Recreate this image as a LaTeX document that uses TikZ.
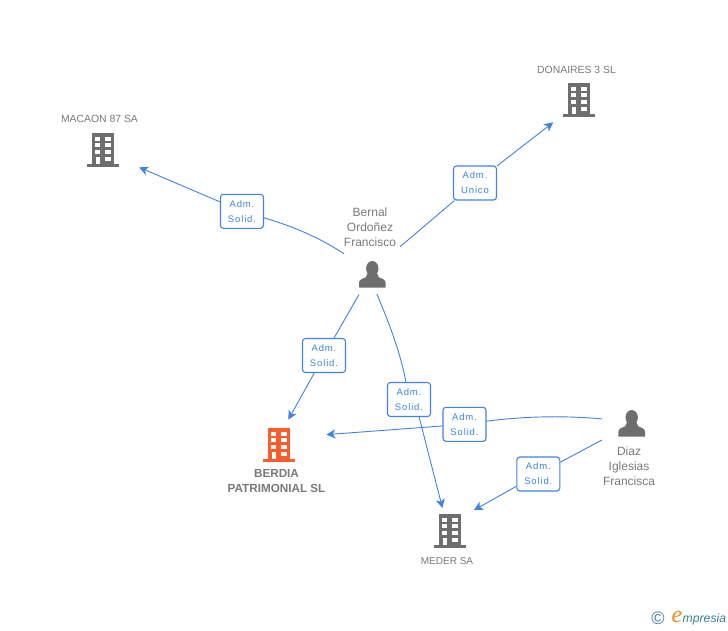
\documentclass[tikz,border=0pt]{standalone}
\usepackage{fontspec}
\usetikzlibrary{arrows.meta}
\setmainfont{Liberation Sans}
\newfontfamily\badgefont[LetterSpace=9]{Liberation Sans}
\newfontfamily\logofont{Liberation Serif}
\definecolor{iconGray}{HTML}{6E6E6E}
\definecolor{textGray}{HTML}{7A7A7A}
\definecolor{linkBlue}{HTML}{3F83E4}
\definecolor{iconOrange}{HTML}{FF5C2E}
\definecolor{logoTeal}{HTML}{3C7F98}
\definecolor{logoOrange}{HTML}{F08A1D}
\tikzset{
	anchorbox/.style={circle,minimum size=40pt,inner sep=0pt},
	name label/.style={text=textGray,font=\fontsize{10.4}{15}\selectfont,align=center,inner sep=0pt},
	badge/.style={draw=linkBlue,fill=white,rounded corners=3pt,line width=1.1pt,
		minimum width=43pt,minimum height=34pt,inner sep=0pt,align=center,
		text=linkBlue,font=\fontsize{9.5}{15}\selectfont\badgefont},
	link/.style={draw=linkBlue,line width=0.9pt},
	tip/.style={-{Stealth[length=9pt,width=9pt,inset=2.5pt]}},
	pics/building/.style={code={
		\fill[#1] (-10.7,-17) rectangle (11,15);
		\fill[#1] (-15.7,14) rectangle (16,17);
		\foreach \wy in {-13.3,-6.7,0} {
			\fill[white] (-7.7,\wy) rectangle (-2.7,\wy+4);
			\fill[white] (2.3,\wy) rectangle (7.7,\wy+4);
		}
		\fill[white] (2.3,6.7) rectangle (7.7,10.7);
		\fill[white] (-7.2,6.7) rectangle (-2.6,14);
	}},
	pics/person/.style={code={
		\fill[iconGray] (0,-5.8) ellipse (6.2 and 7.5);
		\fill[iconGray] (-13.3,13.3) -- (-13.3,8.5) .. controls (-13.3,5.5) and (-10,4.5) .. (-6.5,3)
			-- (-4.8,-1) -- (4.8,-1) -- (6.5,3) .. controls (10,4.5) and (13.3,5.5) .. (13.3,8.5) -- (13.3,13.3) -- cycle;
	}}
}
\begin{document}
\begin{tikzpicture}[x=1pt,y=-1pt]
	\useasboundingbox (0,0) rectangle (728,630);
	\fill[white] (0,0) rectangle (728,630);

	\node[anchorbox] (macaon) at (103,150) {};
	\node[anchorbox] (donaires) at (579,100) {};
	\node[anchorbox] (berdia) at (279,445) {};
	\node[anchorbox] (meder) at (450,531) {};
	\node[anchorbox] (bernal) at (372.3,274.3) {};
	\node[anchorbox] (diaz) at (631.7,423.3) {};

	\pic at (macaon) {building=iconGray};
	\pic at (donaires) {building=iconGray};
	\pic at (berdia) {building=iconOrange};
	\pic at (meder) {building=iconGray};
	\pic at (bernal) {person};
	\pic at (diaz) {person};

	\node[name label] (macaonname) at (99.5,119) {MACAON 87 SA};
	\node[name label] (donairesname) at (576.5,70) {DONAIRES 3 SL};
	\node[name label,font=\fontsize{11.7}{15}\selectfont\bfseries] (berdianame) at (276.5,481) {BERDIA\\PATRIMONIAL SL};
	\node[name label,font=\fontsize{10}{15}\selectfont] (medername) at (447,561) {MEDER SA};
	\node[name label,font=\fontsize{12}{15}\selectfont] (bernalname) at (370,227) {Bernal\\Ordoñez\\Francisco};
	\node[name label,font=\fontsize{12}{15}\selectfont] (diazname) at (629,466) {Diaz\\Iglesias\\Francisca};

	\begin{scope}[every node/.style={badge}]
		\node (adm1) at (242,211.3) {Adm.\\Solid.};
		\node (adm2) at (475,183) {Adm.\\Unico};
		\node (adm3) at (324,355.5) {Adm.\\Solid.};
		\node (adm4) at (409,399.5) {Adm.\\Solid.};
		\node (adm5) at (464.5,424.3) {Adm.\\Solid.};
		\node (adm6) at (538.3,474) {Adm.\\Solid.};
	\end{scope}

	\draw[link,shorten <=15pt] (bernal.142) .. controls (320,238) and (295,227) .. (adm1);
	\draw[link,tip,shorten >=20pt] (adm1) -- (macaon.332);
	\draw[link,shorten <=19pt] (bernal.49) -- (adm2);
	\draw[link,tip,shorten >=14pt] (adm2) -- (donaires.223);
	\draw[link,shorten <=4pt] (bernal.236) -- (adm3);
	\draw[link,tip,shorten >=7pt] (adm3) -- (berdia.73);
	\draw[link] (bernal.283) .. controls (390,325) and (401,355) .. (adm4.100);
	\draw[link,tip,shorten >=4pt] (adm4.300) -- (meder.109);
	\draw[link,shorten <=10pt] (diaz.170) .. controls (570,416) and (530,415.5) .. (adm5.8);
	\draw[link,tip,shorten >=29pt] (adm5) -- (berdia.24);
	\draw[link,shorten <=14pt] (diaz.210) -- (adm6);
	\draw[link,tip,shorten >=12pt] (adm6) -- (meder.48);

	\node[inner sep=0pt,text=logoTeal,font=\fontsize{18}{18}\selectfont] (copyright) at (658,618.5) {©};
	\node[inner sep=0pt,anchor=base west,text=logoTeal,font=\fontsize{12.2}{14}\selectfont\itshape] (logo) at (682.5,622.5) {mpresia};
	\node[inner sep=0pt,anchor=base east,text=logoOrange,font=\fontsize{24}{24}\selectfont\logofont\itshape] (logoe) at (logo.base west) {e};
\end{tikzpicture}
\end{document}
